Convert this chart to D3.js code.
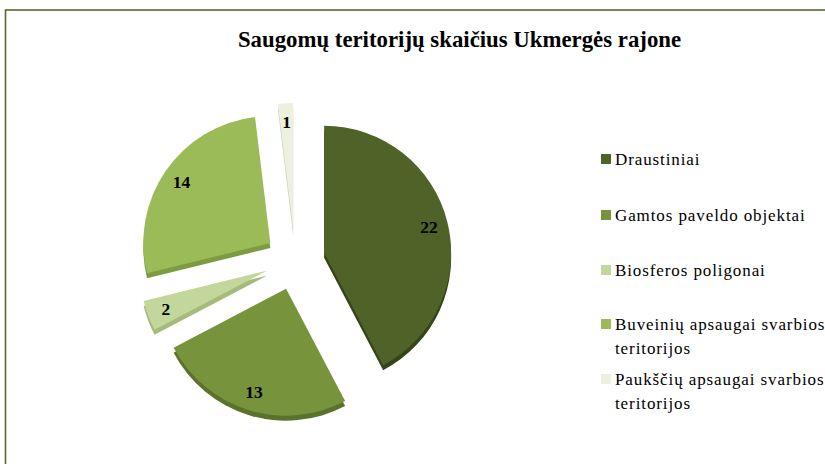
<!DOCTYPE html>
<html>
<head>
<meta charset="utf-8">
<script src="https://cdn.jsdelivr.net/npm/d3@7/dist/d3.min.js"></script>
<style>
  html, body { margin: 0; padding: 0; background: #ffffff; }
  svg { display: block; }
</style>
</head>
<body>
<script>
const title = "Saugomų teritorijų skaičius Ukmergės rajone";
const categories = [
  "Draustiniai",
  "Gamtos paveldo objektai",
  "Biosferos poligonai",
  "Buveinių apsaugai svarbios teritorijos",
  "Paukščių apsaugai svarbios teritorijos"
];
const values = [22, 13, 2, 14, 1];
const colors = ["#4f6228", "#77933c", "#c3d69b", "#9bbb59", "#ebf1de"];
const sideColors = ["#36441a", "#5a722b", "#a6bb7b", "#7d9c42", "#c8cfba"];
const legendLines = [
  ["Draustiniai"],
  ["Gamtos paveldo objektai"],
  ["Biosferos poligonai"],
  ["Buveinių apsaugai svarbios", "teritorijos"],
  ["Paukščių apsaugai svarbios", "teritorijos"]
];

const W = 825, H = 464;
const svg = d3.select("body").append("svg")
  .attr("width", W).attr("height", H)
  .style("font-family", "'Liberation Serif', 'Times New Roman', serif");

// chart border
svg.append("rect")
  .attr("x", 5.5).attr("y", 10).attr("width", W + 10).attr("height", H + 10)
  .attr("fill", "none").attr("stroke", "#566a2e").attr("stroke-width", 1.6);

// title
svg.append("text")
  .attr("x", 459.5).attr("y", 47)
  .attr("text-anchor", "middle")
  .attr("font-weight", "bold")
  .attr("font-size", 22.8)
  .attr("fill", "#000")
  .text(title);

// pie
const cx = 295, cy = 260, R = 127, explode = 30, depth = 5, labelR = 108;
const pie = d3.pie().sort(null).value(d => d)(values);
const arc = d3.arc().innerRadius(0).outerRadius(R);

const g = svg.append("g").attr("transform", `translate(${cx},${cy})`);
function offset(d, dist) {
  const m = (d.startAngle + d.endAngle) / 2;
  return [dist * Math.sin(m), -dist * Math.cos(m)];
}

// sides (extrusion)
g.selectAll("path.side").data(pie).join("path")
  .attr("class", "side")
  .attr("d", arc)
  .attr("fill", (d, i) => sideColors[i])
  .attr("transform", d => {
    const [ox, oy] = offset(d, explode);
    return `translate(${ox},${oy + depth})`;
  });

// top faces
g.selectAll("path.top").data(pie).join("path")
  .attr("class", "top")
  .attr("d", arc)
  .attr("fill", (d, i) => colors[i])
  .attr("transform", d => {
    const [ox, oy] = offset(d, explode);
    return `translate(${ox},${oy})`;
  });

// data labels
g.selectAll("text.lbl").data(pie).join("text")
  .attr("class", "lbl")
  .attr("x", d => offset(d, explode)[0] + offset(d, labelR)[0])
  .attr("y", d => offset(d, explode)[1] + offset(d, labelR)[1])
  .attr("dy", "0.35em")
  .attr("text-anchor", "middle")
  .attr("font-weight", "bold")
  .attr("font-size", 17.5)
  .attr("fill", "#000")
  .text(d => d.data);

// legend
const legendY = [159, 215, 270, 324, 379];
const lg = svg.append("g");
categories.forEach((c, i) => {
  lg.append("rect")
    .attr("x", 601).attr("y", legendY[i] - 5)
    .attr("width", 10).attr("height", 10)
    .attr("fill", colors[i]);
  const t = lg.append("text")
    .attr("x", 615).attr("y", legendY[i])
    .attr("font-size", 17)
    .attr("letter-spacing", 0.9)
    .attr("fill", "#000");
  legendLines[i].forEach((line, j) => {
    t.append("tspan").attr("x", 615).attr("dy", j === 0 ? "0.35em" : 24).text(line);
  });
});
</script>
</body>
</html>
